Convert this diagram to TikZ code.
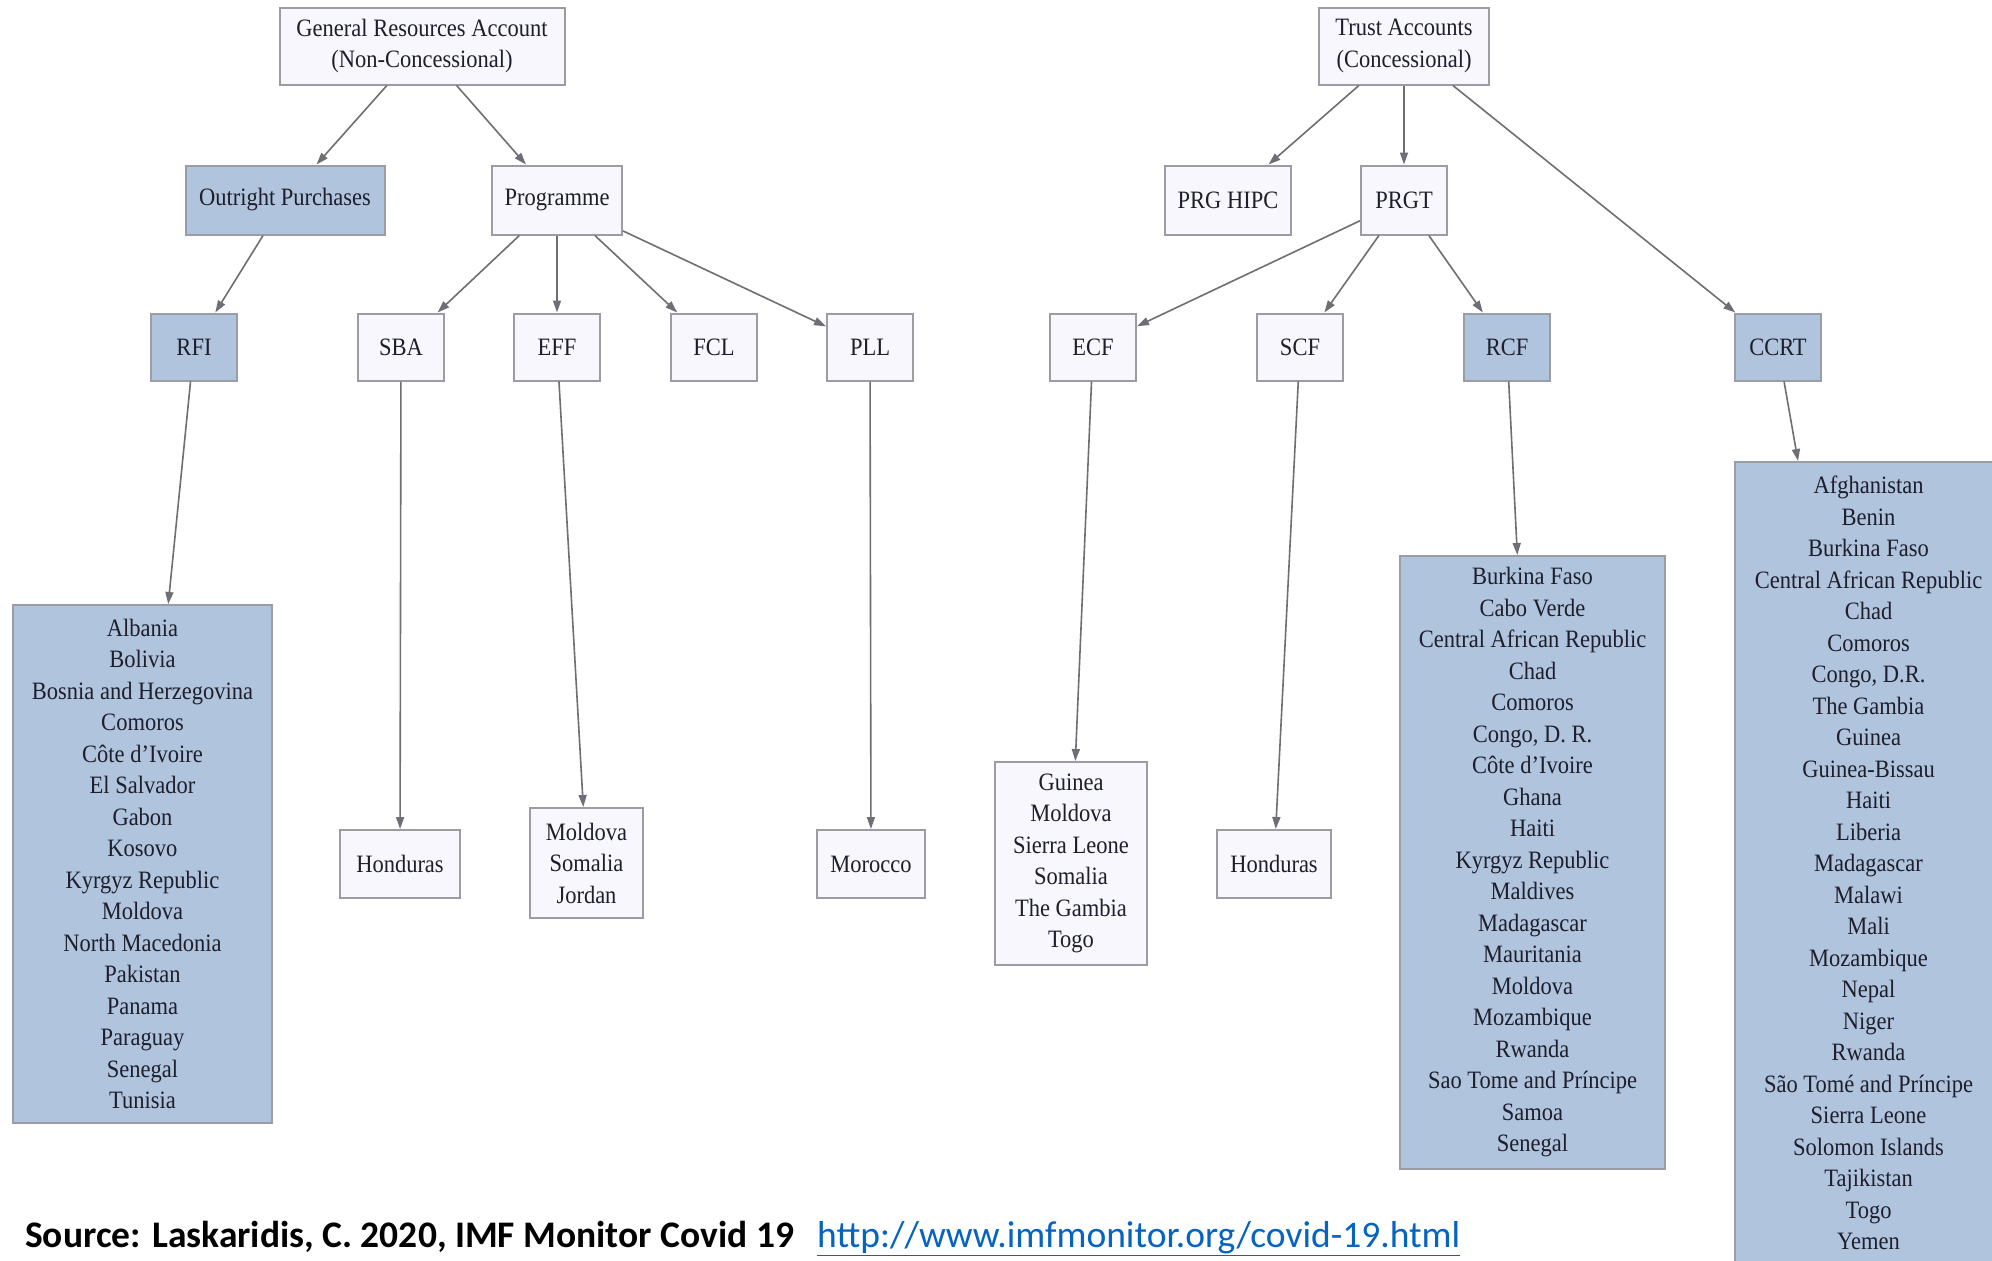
\documentclass[tikz,border=0pt]{standalone}
\usepackage{fontspec}
\setmainfont{Liberation Serif}[FakeStretch=0.9]
\newfontfamily\carlito{Carlito}
\usetikzlibrary{arrows.meta}
\definecolor{boxblue}{HTML}{B0C4DE}
\definecolor{boxwhite}{HTML}{F7F7FD}
\definecolor{boxline}{HTML}{9C9CA4}
\definecolor{edgecol}{HTML}{6E6E74}
\definecolor{txt}{HTML}{1E1E2C}
\definecolor{linkblue}{HTML}{0563C1}
\begin{document}
\begin{tikzpicture}[x=1pt,y=-1pt,
  box/.style={draw=boxline, line width=2pt, fill=boxwhite, inner sep=0pt, align=center, text=txt, font=\fontsize{25}{31.5}\selectfont},
  bluebox/.style={box, fill=boxblue},
  edge/.style={draw=edgecol, line width=1.6pt, -{Triangle[length=12pt,width=8pt]}}]
\clip (0,0) rectangle (1992,1261);
\fill[white] (0,0) rectangle (1992,1261);
% level 1
\node[box, minimum width=285pt, minimum height=77pt] (gra) at (422,46) {General Resources Account\\(Non-Concessional)};
\node[box, minimum width=170pt, minimum height=77pt] (trust) at (1404,46) {Trust Accounts\\(Concessional)};
% level 2
\node[bluebox, minimum width=199pt, minimum height=69pt] (out) at (285,200) {Outright Purchases};
\node[box, minimum width=130pt, minimum height=69pt] (prog) at (557,200) {Programme};
\node[box, minimum width=126pt, minimum height=69pt] (hipc) at (1228,200) {PRG HIPC};
\node[box, minimum width=86pt, minimum height=69pt] (prgt) at (1404,200) {PRGT};
% level 3
\tikzset{r3/.style={minimum width=86pt, minimum height=67pt}}
\node[bluebox, r3] (rfi) at (194,347) {RFI};
\node[box, r3] (sba) at (401,347) {SBA};
\node[box, r3] (eff) at (557,347) {EFF};
\node[box, r3] (fcl) at (714,347) {FCL};
\node[box, r3] (pll) at (870,347) {PLL};
\node[box, r3] (ecf) at (1093,347) {ECF};
\node[box, r3] (scf) at (1300,347) {SCF};
\node[bluebox, r3] (rcf) at (1507,347) {RCF};
\node[bluebox, r3] (ccrt) at (1778,347) {CCRT};
% leaves
\node[bluebox, minimum width=259pt, minimum height=518pt] (rfiL) at (142.5,864) {Albania\\Bolivia\\Bosnia and Herzegovina\\Comoros\\Côte d’Ivoire\\El Salvador\\Gabon\\Kosovo\\Kyrgyz Republic\\Moldova\\North Macedonia\\Pakistan\\Panama\\Paraguay\\Senegal\\Tunisia};
\node[box, minimum width=120pt, minimum height=68pt] (sbaL) at (400,864) {Honduras};
\node[box, minimum width=113pt, minimum height=110pt] (effL) at (586.5,863) {Moldova\\Somalia\\Jordan};
\node[box, minimum width=108pt, minimum height=68pt] (pllL) at (871,864) {Morocco};
\node[box, minimum width=152pt, minimum height=203pt] (ecfL) at (1071,863.5) {Guinea\\Moldova\\Sierra Leone\\Somalia\\The Gambia\\Togo};
\node[box, minimum width=114pt, minimum height=68pt] (scfL) at (1274,864) {Honduras};
\node[bluebox, minimum width=265pt, minimum height=613pt] (rcfL) at (1532.5,862.5) {Burkina Faso\\Cabo Verde\\Central African Republic\\Chad\\Comoros\\Congo, D. R.\\Côte d’Ivoire\\Ghana\\Haiti\\Kyrgyz Republic\\Maldives\\Madagascar\\Mauritania\\Moldova\\Mozambique\\Rwanda\\Sao Tome and Príncipe\\Samoa\\Senegal};
\node[bluebox, minimum width=267pt, minimum height=802pt] (ccrtL) at (1868.5,863) {Afghanistan\\Benin\\Burkina Faso\\Central African Republic\\Chad\\Comoros\\Congo, D.R.\\The Gambia\\Guinea\\Guinea-Bissau\\Haiti\\Liberia\\Madagascar\\Malawi\\Mali\\Mozambique\\Nepal\\Niger\\Rwanda\\São Tomé and Príncipe\\Sierra Leone\\Solomon Islands\\Tajikistan\\Togo\\Yemen};
% edges
\draw[edge] (gra) -- (out);
\draw[edge] (gra) -- (prog);
\draw[edge] (out) -- (rfi);
\draw[edge] (prog) -- (sba);
\draw[edge] (prog) -- (eff);
\draw[edge] (prog) -- (fcl);
\draw[edge] (prog) -- (pll);
\draw[edge] (trust) -- (hipc);
\draw[edge] (trust) -- (prgt);
\draw[edge] (trust) -- (ccrt);
\draw[edge] (prgt) -- (ecf);
\draw[edge] (prgt) -- (scf);
\draw[edge] (prgt) -- (rcf);
\draw[edge] (rfi) -- (rfiL);
\draw[edge] (sba) -- (sbaL);
\draw[edge] (eff) -- (effL);
\draw[edge] (pll) -- (pllL);
\draw[edge] (ecf) -- (ecfL);
\draw[edge] (scf) -- (scfL);
\draw[edge] (rcf) -- (rcfL);
\draw[edge] (ccrt) -- (ccrtL);
% source
\node[anchor=base west, inner sep=0pt, font=\carlito\bfseries\fontsize{37.5}{40}\selectfont, text=black] (src) at (25,1247) {Source: Laskaridis, C. 2020, IMF Monitor Covid 19};
\node[anchor=base west, inner sep=0pt, font=\carlito\fontsize{37.5}{40}\selectfont, text=linkblue] (url) at (817,1247) {\underline{http://www.imfmonitor.org/covid-19.html}};
\end{tikzpicture}
\end{document}
